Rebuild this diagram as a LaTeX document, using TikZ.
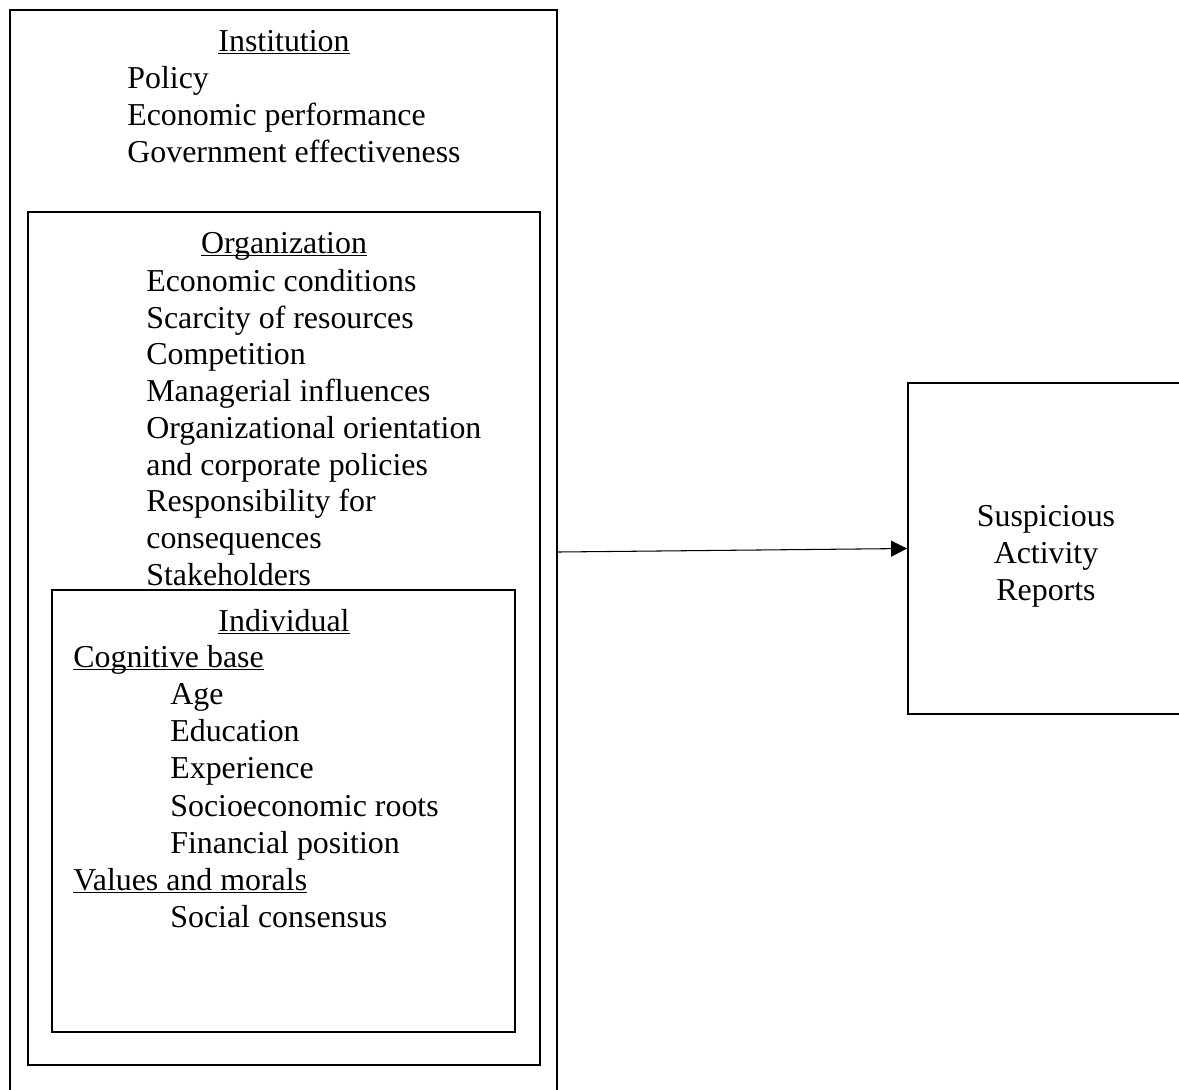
\documentclass[tikz,border=0pt]{standalone}
\usepackage{fontspec}
\setmainfont{Liberation Serif}
\usetikzlibrary{arrows.meta,positioning}
\newlength\ulwd
\newcommand{\ultext}[1]{\settowidth{\ulwd}{#1}\rlap{\rule[-0.1em]{\ulwd}{0.05em}}#1}

\begin{document}
\begin{tikzpicture}[
    x=0.02cm, y=-0.02cm,
    every node/.style={font=\fontsize{18.15}{21.05}\selectfont},
    box/.style={rectangle,draw=black,line width=1.1pt,inner sep=0pt},
    lbl/.style={inner sep=0pt,anchor=base west},
    ttl/.style={inner sep=0pt,anchor=base},
    >={Triangle[length=0.32cm,width=0.32cm]},
    ]
    \clip (0,0) rectangle (1179,1089);

    %Boxes
    \node[box,minimum width=10.94cm,minimum height=21.68cm] (inst) at (283.5,552) {};
    \node[box,minimum width=10.24cm,minimum height=17.06cm] (org) at (284,638.5) {};
    \node[box,minimum width=9.26cm,minimum height=8.84cm] (ind) at (283.5,811) {};
    \node[box,minimum width=5.52cm,minimum height=6.62cm] (sar) at (1046,548.5) {};
    \node[align=center,inner sep=0pt] (sartext) at (1046,556) {Suspicious\\Activity\\Reports};

    %Arrow
    \draw[->,line width=0.6pt] (inst.east) -- (sar.west);

    %Institution
    \node[ttl] (insttitle) at (284,51) {\ultext{Institution}};
    \node[lbl] (policy) at (127,88) {Policy};
    \node[lbl] (econperf) at (127,125) {Economic performance};
    \node[lbl] (goveff) at (127,162) {Government effectiveness};

    %Organization
    \node[ttl] (orgtitle) at (284,253) {\ultext{Organization}};
    \node[lbl] (econcond) at (146,291) {Economic conditions};
    \node[lbl] (scarcity) at (146,328) {Scarcity of resources};
    \node[lbl] (competition) at (146,364) {Competition};
    \node[lbl] (managerial) at (146,401) {Managerial influences};
    \node[lbl] (orient) at (146,438) {Organizational orientation};
    \node[lbl] (corppol) at (146,475) {and corporate policies};
    \node[lbl] (respons) at (146,511) {Responsibility for};
    \node[lbl] (conseq) at (146,548) {consequences};
    \node[lbl] (stake) at (146,585) {Stakeholders};

    %Individual
    \node[ttl] (indtitle) at (284,631) {\ultext{Individual}};
    \node[lbl] (cogbase) at (73,667) {\ultext{Cognitive base}};
    \node[lbl] (age) at (170,704) {Age};
    \node[lbl] (educ) at (170,741) {Education};
    \node[lbl] (exper) at (170,778) {Experience};
    \node[lbl] (socroots) at (170,816) {Socioeconomic roots};
    \node[lbl] (finpos) at (170,853) {Financial position};
    \node[lbl] (values) at (73,890) {\ultext{Values and morals}};
    \node[lbl] (consensus) at (170,927) {Social consensus};

\end{tikzpicture}
\end{document}
